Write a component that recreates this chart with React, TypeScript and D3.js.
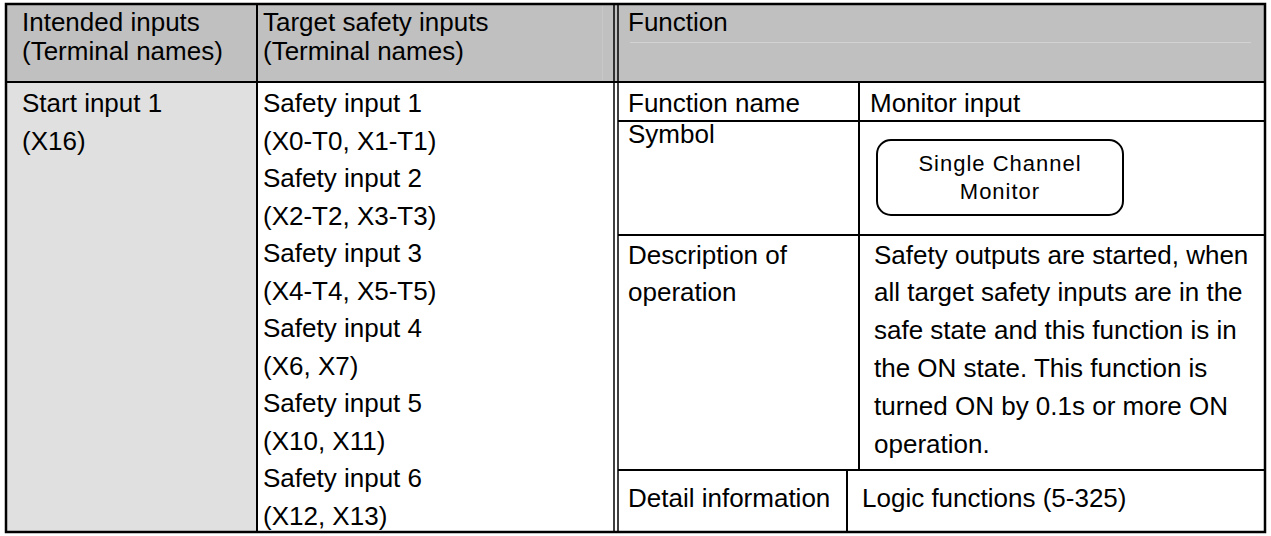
import React from "react";
import * as d3 from "d3";

// table text
const headerCol1 = ["Intended inputs", "(Terminal names)"];
const headerCol2 = ["Target safety inputs", "(Terminal names)"];
const headerCol3 = ["Function"];
const intendedInputs = ["Start input 1", "(X16)"];
const targetInputs = [
  "Safety input 1",
  "(X0-T0, X1-T1)",
  "Safety input 2",
  "(X2-T2, X3-T3)",
  "Safety input 3",
  "(X4-T4, X5-T5)",
  "Safety input 4",
  "(X6, X7)",
  "Safety input 5",
  "(X10, X11)",
  "Safety input 6",
  "(X12, X13)",
];
const functionName = ["Function name", "Monitor input"];
const symbolLabel = "Symbol";
const symbolText = ["Single Channel", "Monitor"];
const descLabel = ["Description of", "operation"];
const descText = [
  "Safety outputs are started, when",
  "all target safety inputs are in the",
  "safe state and this function is in",
  "the ON state. This function is",
  "turned ON by 0.1s or more ON",
  "operation.",
];
const detailText = ["Detail information", "Logic functions (5-325)"];

const W = 1271;
const H = 536;
const FONT = "'Liberation Sans', Arial, sans-serif";

export default function App() {
  // frame
  const left = 6, right = 1265, top = 4, bottom = 532;
  const colA = 257; // intended | target
  const colB1 = 614, colB2 = 618; // double rule
  const colC = 859; // label | value
  const colCDetail = 847;
  const headY = 82, fnY = 121, symY = 235, descY = 470;

  // line scale for stacked text in the body
  const lineY = d3.scaleLinear().domain([0, 1]).range([112, 149.5]);
  const descLineY = d3.scaleLinear().domain([0, 1]).range([263.5, 301.3]);
  const headLineY = d3.scaleLinear().domain([0, 1]).range([31, 60]);

  const txt = (x: number, y: number, s: string, key?: string | number) => (
    <text key={key} x={x} y={y} fontFamily={FONT} fontSize={26} fill="#000">
      {s}
    </text>
  );

  return (
    <svg
      width={W}
      height={H}
      style={{ position: "absolute", left: 0, top: 0, background: "#fff" }}
    >
      {/* fills */}
      <rect x={left} y={top} width={right - left} height={headY - top} fill="#c0c0c0" />
      <rect x={left} y={headY} width={colA - left} height={bottom - headY} fill="#e0e0e0" />
      <line x1={630} x2={1251} y1={42.5} y2={42.5} stroke="#d2d2d2" strokeWidth={1} />
      <line x1={602.5} x2={602.5} y1={6} y2={80} stroke="#c8c8c8" strokeWidth={1} />

      {/* header text */}
      {headerCol1.map((s, i) => txt(22, headLineY(i), s, "h1" + i))}
      {headerCol2.map((s, i) => txt(263, headLineY(i), s, "h2" + i))}
      {headerCol3.map((s, i) => txt(628, headLineY(i), s, "h3" + i))}

      {/* intended inputs */}
      {intendedInputs.map((s, i) => txt(22, lineY(i), s, "in" + i))}
      {/* target inputs */}
      {targetInputs.map((s, i) => txt(263, lineY(i), s, "t" + i))}

      {/* function block */}
      {txt(628, lineY(0), functionName[0])}
      {txt(870, lineY(0), functionName[1])}
      {txt(628, 143, symbolLabel)}
      <rect x={877} y={140} width={246} height={75} rx={14} ry={14} fill="none" stroke="#000" strokeWidth={2} />
      {symbolText.map((s, i) => (
        <text
          key={"sy" + i}
          x={1000}
          y={171 + i * 27.5}
          textAnchor="middle"
          fontFamily={FONT}
          fontSize={22}
          letterSpacing={1}
          fill="#000"
        >
          {s}
        </text>
      ))}
      {descLabel.map((s, i) => txt(628, descLineY(i), s, "dl" + i))}
      {descText.map((s, i) => txt(874, descLineY(i), s, "dt" + i))}
      {txt(628, 507, detailText[0])}
      {txt(862, 507, detailText[1])}

      {/* rules */}
      <g stroke="#000" fill="none">
        <line x1={left} x2={right} y1={headY} y2={headY} strokeWidth={2} />
        <line x1={colA} x2={colA} y1={top} y2={bottom} strokeWidth={2} />
        <line x1={colB1} x2={colB1} y1={top} y2={bottom} strokeWidth={1.5} />
        <line x1={colB2} x2={colB2} y1={top} y2={bottom} strokeWidth={1.5} />
        <line x1={colB2} x2={right} y1={fnY} y2={fnY} strokeWidth={2} />
        <line x1={colB2} x2={right} y1={symY} y2={symY} strokeWidth={2} />
        <line x1={colB2} x2={right} y1={descY} y2={descY} strokeWidth={2} />
        <line x1={colC} x2={colC} y1={headY} y2={descY} strokeWidth={2} />
        <line x1={colCDetail} x2={colCDetail} y1={descY} y2={bottom} strokeWidth={2} />
        <rect x={left} y={top} width={right - left} height={bottom - top} strokeWidth={2.5} />
      </g>
    </svg>
  );
}
